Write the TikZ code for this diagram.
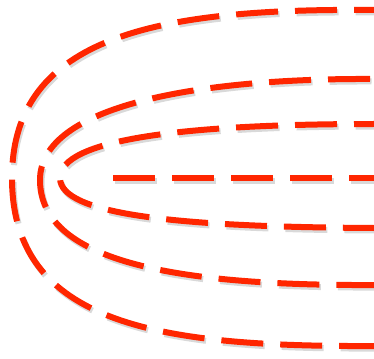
\documentclass[tikz,border=0pt]{standalone}
\usepackage{tikz}
\definecolor{dashred}{RGB}{255,38,0}

\begin{document}
\begin{tikzpicture}[x=1pt, y=-1pt,
    field/.style={draw=dashred, line width=6pt, dash pattern=on 42pt off 17pt},
    fshadow/.style={draw=black!50, opacity=0.3, line width=6pt,
      dash pattern=on 42pt off 17pt, shift={(1.5,2.5)}}]
  \useasboundingbox (0,0) rectangle (374,358);
  \clip (0,0) rectangle (374,358);
  % ---- nested field lines, shadow first, then the red stroke ----
  \foreach \sty in {fshadow,field}{
    % outer loop
    \draw[\sty, dash phase=22pt] (374,10) .. controls (160,8) and (12,35) .. (12,178)
                         .. controls (12,325) and (160,347) .. (374,346);
    % middle loop
    \draw[\sty, dash phase=55pt] (374,79) .. controls (200,78) and (40,105) .. (40,180)
                         .. controls (40,260) and (170,286) .. (374,285);
    % inner loop
    \draw[\sty, dash phase=22pt] (374,124) .. controls (180,124) and (60,140) .. (60,178)
                          .. controls (60,215) and (180,227) .. (374,228);
    % centre line
    \draw[\sty] (113,178) -- (374,178);
  }
\end{tikzpicture}
\end{document}
